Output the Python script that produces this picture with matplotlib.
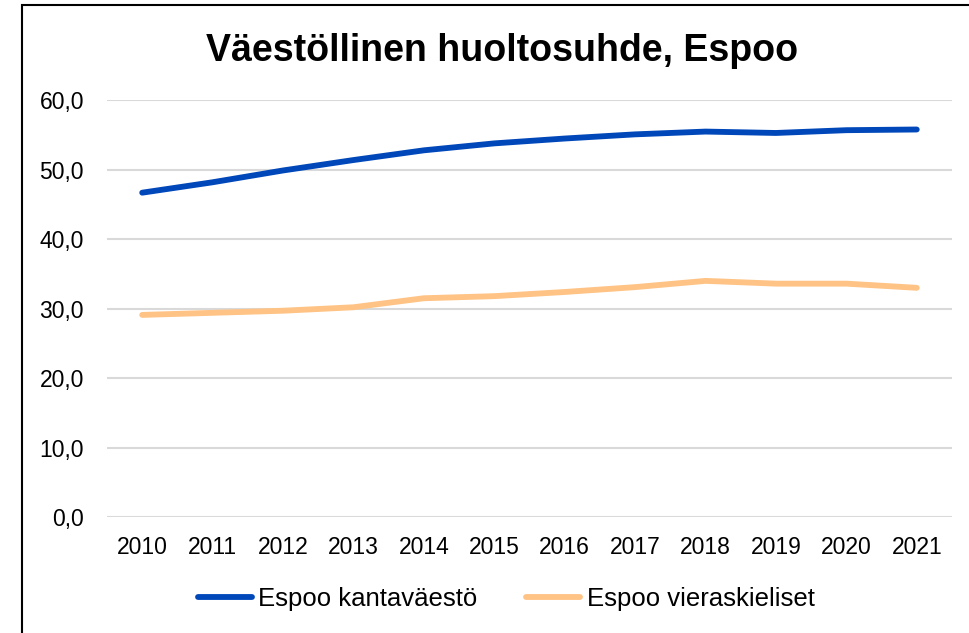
import numpy as np
import matplotlib
matplotlib.use('Agg')
import matplotlib.pyplot as plt
from matplotlib.patches import Rectangle

plt.rcParams['font.family'] = ['Liberation Sans', 'DejaVu Sans']

# data
years = ['2010', '2011', '2012', '2013', '2014', '2015', '2016', '2017', '2018', '2019', '2020', '2021']
kantavaesto = [46.7, 48.2, 49.9, 51.4, 52.8, 53.8, 54.5, 55.1, 55.5, 55.3, 55.7, 55.8]
vieraskieliset = [29.1, 29.4, 29.7, 30.2, 31.5, 31.8, 32.4, 33.1, 34.0, 33.6, 33.6, 33.0]
yticks = [0, 10, 20, 30, 40, 50, 60]

f = plt.figure(figsize=(9.7, 6.33), dpi=100)
ax = f.add_axes([0.1103, 0.1833, 0.8711, 0.6582])

x = np.arange(len(years))
ax.plot(x, kantavaesto, color='#0047BA', lw=4.2, solid_capstyle='round', label='Espoo kantaväestö', zorder=3)
ax.plot(x, vieraskieliset, color='#FFC385', lw=4.2, solid_capstyle='round', label='Espoo vieraskieliset', zorder=3)

ax.set_xlim(-0.5, len(years) - 0.5)
ax.set_ylim(0, 60)
ax.set_yticks(yticks)
ax.set_yticklabels(['%d,0' % v for v in yticks])
ax.set_xticks(x)
ax.set_xticklabels(years)
ax.tick_params(axis='both', length=0, labelsize=16.5, colors='black')
ax.tick_params(axis='y', pad=16.5)
ax.tick_params(axis='x', pad=14)
ax.yaxis.grid(True, color='#D9D9D9', lw=1.5)
ax.set_axisbelow(True)
for s in ax.spines.values():
    s.set_visible(False)

f.text(0.5175, 0.920, 'Väestöllinen huoltosuhde, Espoo', ha='center', va='center',
       fontsize=27, fontweight='bold')

f.legend(loc='center', bbox_to_anchor=(0.522, 1 - 599 / 633), ncol=2, frameon=False,
         fontsize=18.5, handlelength=2.1, handletextpad=0.25, columnspacing=1.9)

# outer frame (right and bottom edges fall outside the picture)
f.patches.append(Rectangle((22 / 970, -0.05), 1.1, 1 - 4.5 / 633 + 0.05, transform=f.transFigure,
                           fill=False, edgecolor='black', lw=1.5, zorder=0))

f.savefig('out.png', dpi=100)
